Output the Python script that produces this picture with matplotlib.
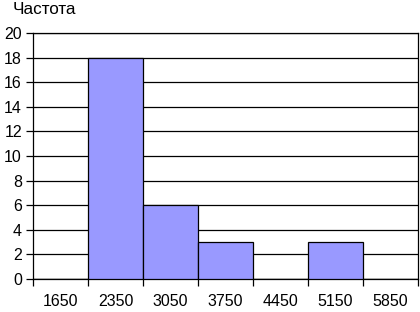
import matplotlib.pyplot as plt
import numpy as np

bins = ["1650", "2350", "3050", "3750", "4450", "5150", "5850"]
freq = [0, 18, 6, 3, 0, 3, 0]

plt.rcParams['font.family'] = ['Liberation Sans', 'DejaVu Sans']

fig = plt.figure(figsize=(4.2, 3.12), dpi=100)
ax = fig.add_axes([33 / 420, 33 / 312, 385 / 420, 246 / 312])

x = np.arange(len(bins))
ax.bar(x, freq, width=1.0, color="#9999ff", edgecolor="black", linewidth=0.9, zorder=3)

ax.set_xlim(-0.5, len(bins) - 0.5)
ax.set_ylim(0, 20)
ax.set_yticks(range(0, 21, 2))
ax.yaxis.grid(True, color="black", linewidth=0.9, zorder=0)
ax.set_axisbelow(True)

ax.set_xticks(x)
ax.set_xticklabels(bins, fontsize=11.5)
ax.set_xticks(np.arange(-0.5, len(bins)), minor=True)
ax.tick_params(axis="x", which="major", length=0, pad=11)
ax.tick_params(axis="x", which="minor", length=5, width=0.9, direction="out")
ax.tick_params(axis="y", length=5, width=0.9, labelsize=11.5, pad=3)

for s in ax.spines.values():
    s.set_color("black")
    s.set_linewidth(0.9)

fig.text(13 / 420, 1 - 14 / 312, "Частота", fontsize=12.3, va="baseline", ha="left")

fig.savefig("out.png", dpi=100)
